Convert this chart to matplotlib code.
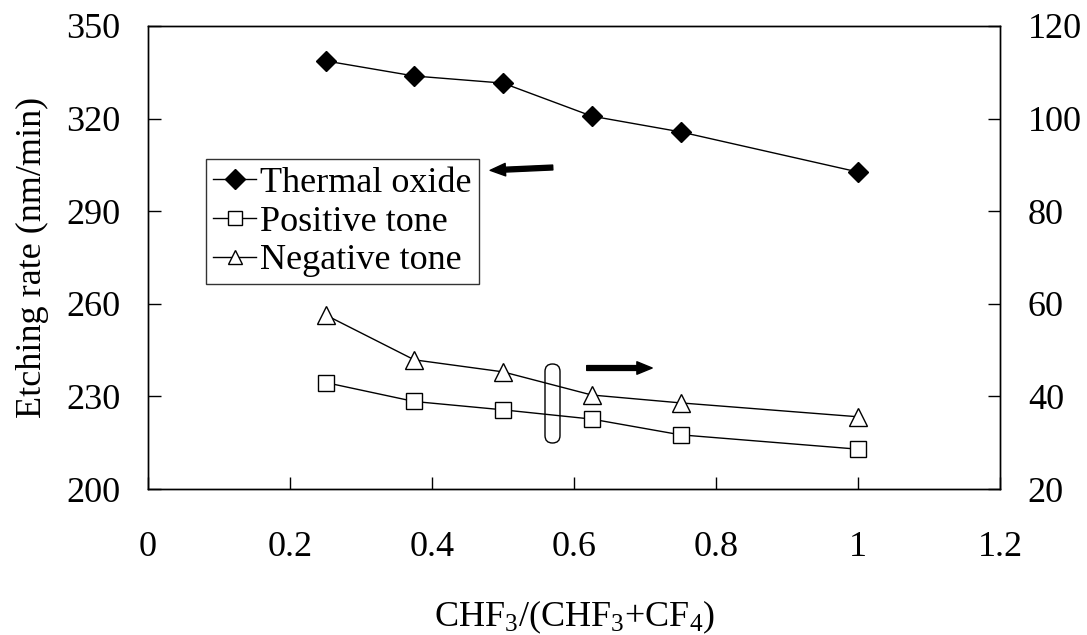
import matplotlib.pyplot as plt
from matplotlib.patches import FancyBboxPatch

plt.rcParams['font.family'] = 'Liberation Serif'
plt.rcParams['mathtext.fontset'] = 'custom'
plt.rcParams['mathtext.rm'] = 'Liberation Serif'
plt.rcParams['mathtext.it'] = 'Liberation Serif:italic'

# data
ratio = [0.25, 0.375, 0.5, 0.625, 0.75, 1.0]
thermal_oxide = [338.7, 333.8, 331.5, 320.8, 315.7, 302.7]   # left axis
positive_tone = [43.0, 38.9, 37.1, 35.1, 31.7, 28.6]         # right axis
negative_tone = [57.6, 47.9, 45.3, 40.3, 38.6, 35.6]         # right axis

left_ticks = [200, 230, 260, 290, 320, 350]
right_ticks = [20, 40, 60, 80, 100, 120]
x_ticks = [0, 0.2, 0.4, 0.6, 0.8, 1, 1.2]
x_ticklabels = ['0', '0.2', '0.4', '0.6', '0.8', '1', '1.2']

FS = 26

fig = plt.figure(figsize=(10.87, 6.35), dpi=100)
ax = fig.add_axes([148/1087, 1 - 489/635, (1000 - 148)/1087, (489 - 26)/635])
ax2 = ax.twinx()

l1, = ax.plot(ratio, thermal_oxide, color='black', lw=1, marker='D',
              markersize=10, markerfacecolor='black', label='Thermal oxide')
l2, = ax2.plot(ratio, positive_tone, color='black', lw=1, marker='s',
               markersize=12, markerfacecolor='white', markeredgewidth=1,
               label='Positive tone')
l3, = ax2.plot(ratio, negative_tone, color='black', lw=1, marker='^',
               markersize=13, markerfacecolor='white', markeredgewidth=1,
               label='Negative tone')

ax.set_xlim(0, 1.2)
ax.set_ylim(200, 350)
ax2.set_ylim(20, 120)
ax.set_xticks(x_ticks)
ax.set_xticklabels(x_ticklabels)
ax.set_yticks(left_ticks)
ax2.set_yticks(right_ticks)

for a in (ax, ax2):
    a.tick_params(direction='in', length=9, width=1, labelsize=FS, pad=20)
    for s in a.spines.values():
        s.set_linewidth(1)
ax.tick_params(axis='x', pad=30)

ax.set_xlabel('CHF$_3$/(CHF$_3$+CF$_4$)', fontsize=FS, labelpad=25)
ax.set_ylabel('Etching rate (nm/min)', fontsize=FS, labelpad=12)

leg = ax.legend(handles=[l1, l2, l3], loc='upper left',
                bbox_to_anchor=(0.068, 0.712), fontsize=FS, frameon=True,
                fancybox=False, handlelength=1.2, handletextpad=0.1,
                borderpad=0.2, labelspacing=0.15, borderaxespad=0)
leg.get_frame().set_edgecolor('black')
leg.get_frame().set_linewidth(1)
for h in leg.legend_handles:
    h.set_markersize(10)

# arrows pointing at the axes
arrow_style = 'simple,head_length=1.1,head_width=0.9,tail_width=0.35'
ax.annotate('', xy=(0.478, 303.2), xytext=(0.574, 304.2),
            arrowprops=dict(arrowstyle=arrow_style, color='black'))
ax.annotate('', xy=(0.714, 239.2), xytext=(0.614, 239.2),
            arrowprops=dict(arrowstyle=arrow_style, color='black'))

# rounded marker around the 0.6 region
pill = FancyBboxPatch((5.45, 1.92), 0.15, 0.79,
                      boxstyle='round,pad=0,rounding_size=0.075',
                      transform=fig.dpi_scale_trans, facecolor='none',
                      edgecolor='black', lw=1)
fig.patches.append(pill)

fig.savefig('out.png', dpi=100)
